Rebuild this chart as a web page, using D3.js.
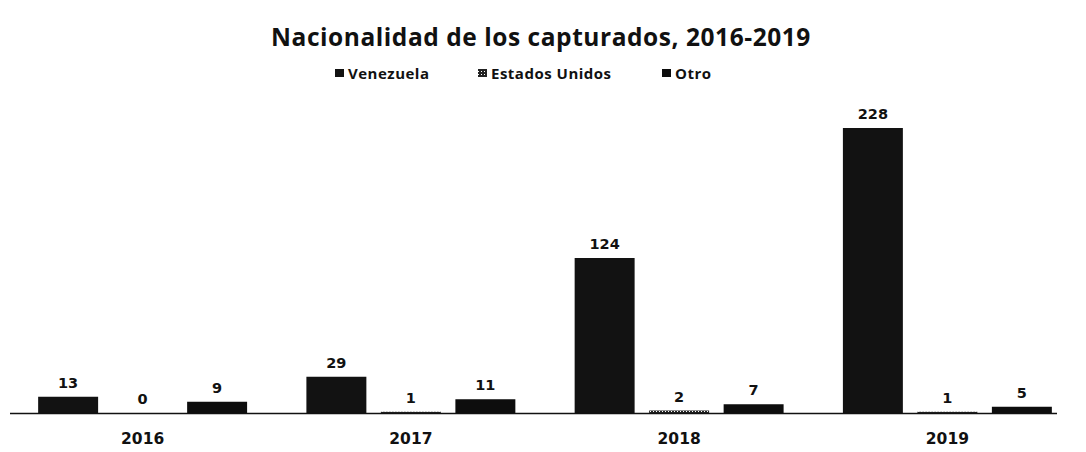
<!DOCTYPE html>
<html><head><meta charset="utf-8">
<script src="https://cdn.jsdelivr.net/npm/d3@7"></script>
<style>body{margin:0;background:#fff}svg{display:block}text{font-weight:700;fill:#111}</style>
</head><body><svg id="c" width="1086" height="452"></svg>
<script>
const years = ["2016","2017","2018","2019"];
const seriesNames = ["Venezuela","Estados Unidos","Otro"];
const venezuela = [13,29,124,228];
const estadosUnidos = [0,1,2,1];
const otro = [9,11,7,5];
const seriesValues = [venezuela, estadosUnidos, otro];

const svg = d3.select("#c");
const defs = svg.append("defs");
const pat = defs.append("pattern").attr("id","hatch").attr("width",3).attr("height",3).attr("patternUnits","userSpaceOnUse");
pat.append("rect").attr("width",3).attr("height",3).attr("fill","#222");
pat.append("rect").attr("width",1).attr("height",1).attr("fill","#fff");
const fills = ["#121212","url(#hatch)","#0d0d0d"];

const baseY = 413;
const x0 = d3.scaleBand().domain(years).range([8.5,1081.5]);
const x1 = d3.scaleBand().domain(seriesNames).range([0,x0.bandwidth()]).paddingInner(0.195).paddingOuter(0.398);
const y = d3.scaleLinear().domain([0,228]).range([baseY,128]);

svg.append("text").attr("x",541).attr("y",46).attr("text-anchor","middle")
  .style("font-family","'Open Sans',sans-serif").style("font-size","24.5px").style("letter-spacing","0.55px")
  .text("Nacionalidad de los capturados, 2016-2019");

// legend
const legendX = [335, 478, 662];
seriesNames.forEach((s,i)=>{
  const g = svg.append("g").attr("transform",`translate(${legendX[i]},74)`);
  g.append("rect").attr("x",0).attr("y",-5).attr("width",9).attr("height",8).attr("fill",fills[i]);
  g.append("text").attr("x",13).attr("y",4.5).style("font-family","'Open Sans',sans-serif")
    .style("font-size","15px").style("letter-spacing","0.5px").text(s);
});

const groups = svg.append("g").selectAll("g").data(years).join("g")
  .attr("transform",d=>`translate(${x0(d)},0)`);
groups.each(function(yr,yi){
  const g = d3.select(this);
  seriesNames.forEach((s,si)=>{
    const v = seriesValues[si][yi];
    g.append("rect").attr("x",x1(s)).attr("width",x1.bandwidth())
      .attr("y",y(v)).attr("height",baseY-y(v)).attr("fill",fills[si]);
    g.append("text").attr("x",x1(s)+x1.bandwidth()/2).attr("y",y(v)-9)
      .attr("text-anchor","middle").style("font-family","'DejaVu Sans',sans-serif")
      .style("font-size","14.5px").text(v);
  });
});

// axis
const axis = d3.axisBottom(x0).tickSize(0).tickPadding(20);
const ax = svg.append("g").attr("transform",`translate(0,${baseY})`).call(axis);
ax.select(".domain").attr("d","M10,0.5H1057").attr("stroke","#111").attr("stroke-width",1.6);
ax.selectAll("text").style("font-size","15.5px").style("font-family","'DejaVu Sans',sans-serif")
  .style("font-weight","700").attr("fill","#111");
</script></body></html>
